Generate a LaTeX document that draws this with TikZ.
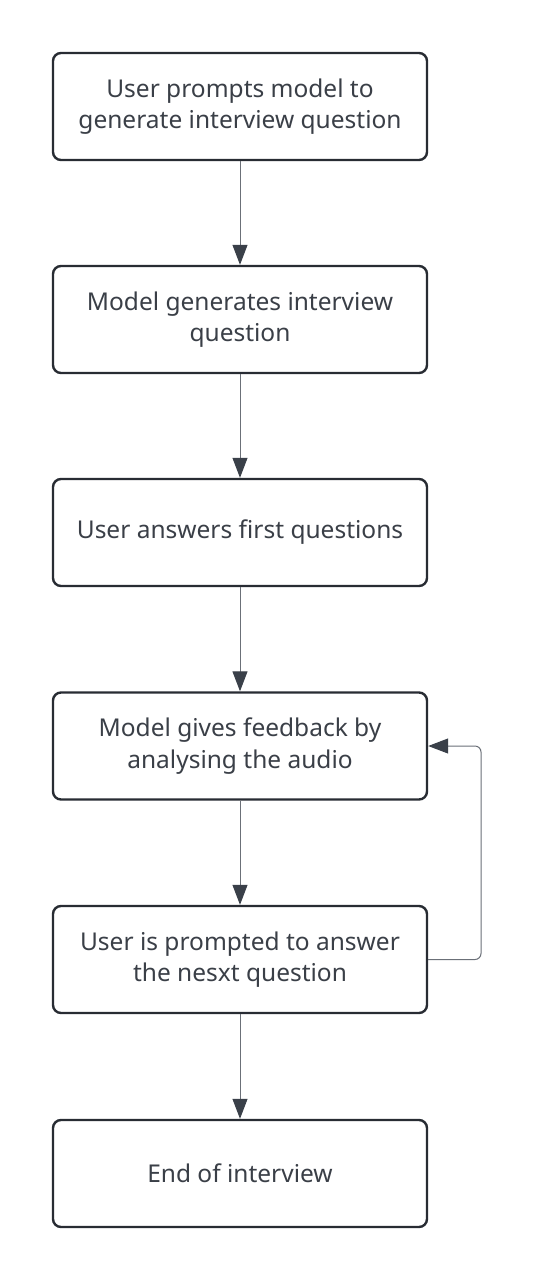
\documentclass[tikz,border=0pt]{standalone}
\usepackage{fontspec}
\setmainfont{Noto Sans}
\usetikzlibrary{arrows.meta}
\definecolor{boxline}{HTML}{282C33}
\definecolor{conn}{HTML}{6B7078}
\definecolor{tip}{HTML}{3A4049}
\definecolor{txt}{HTML}{3A3F47}
\begin{document}
\begin{tikzpicture}[x=1pt,y=-1pt,
  stepbox/.style={draw=boxline,line width=2.4pt,rounded corners=8pt,minimum width=374pt,minimum height=107pt,
    align=center,text=txt,font=\fontsize{24.5}{31.5}\selectfont,inner sep=0pt},
  conarrow/.style={draw=conn,line width=1pt,-{Triangle[length=20pt,width=15pt,color=tip,fill=tip]}}]
\useasboundingbox[fill=white] (0,0) rectangle (534,1280);
\node[stepbox] (b1) at (240,106.5) {User prompts model to\\generate interview question};
\node[stepbox] (b2) at (240,319.5) {Model generates interview\\question};
\node[stepbox] (b3) at (240,532.5) {User answers first questions};
\node[stepbox] (b4) at (240,746) {Model gives feedback by\\analysing the audio};
\node[stepbox] (b5) at (240,959.5) {User is prompted to answer\\the nesxt question};
\node[stepbox] (b6) at (240,1173.5) {End of interview};
\draw[conarrow] (b1.south) -- (b2.north);
\draw[conarrow] (b2.south) -- (b3.north);
\draw[conarrow] (b3.south) -- (b4.north);
\draw[conarrow] (b4.south) -- (b5.north);
\draw[conarrow] (b5.south) -- (b6.north);
\coordinate (lb) at (481,959.5);
\coordinate (lt) at (481,746);
\draw[conarrow,rounded corners=6pt] (b5.east) -- (lb) -- (lt) -- (b4.east);
\end{tikzpicture}
\end{document}
